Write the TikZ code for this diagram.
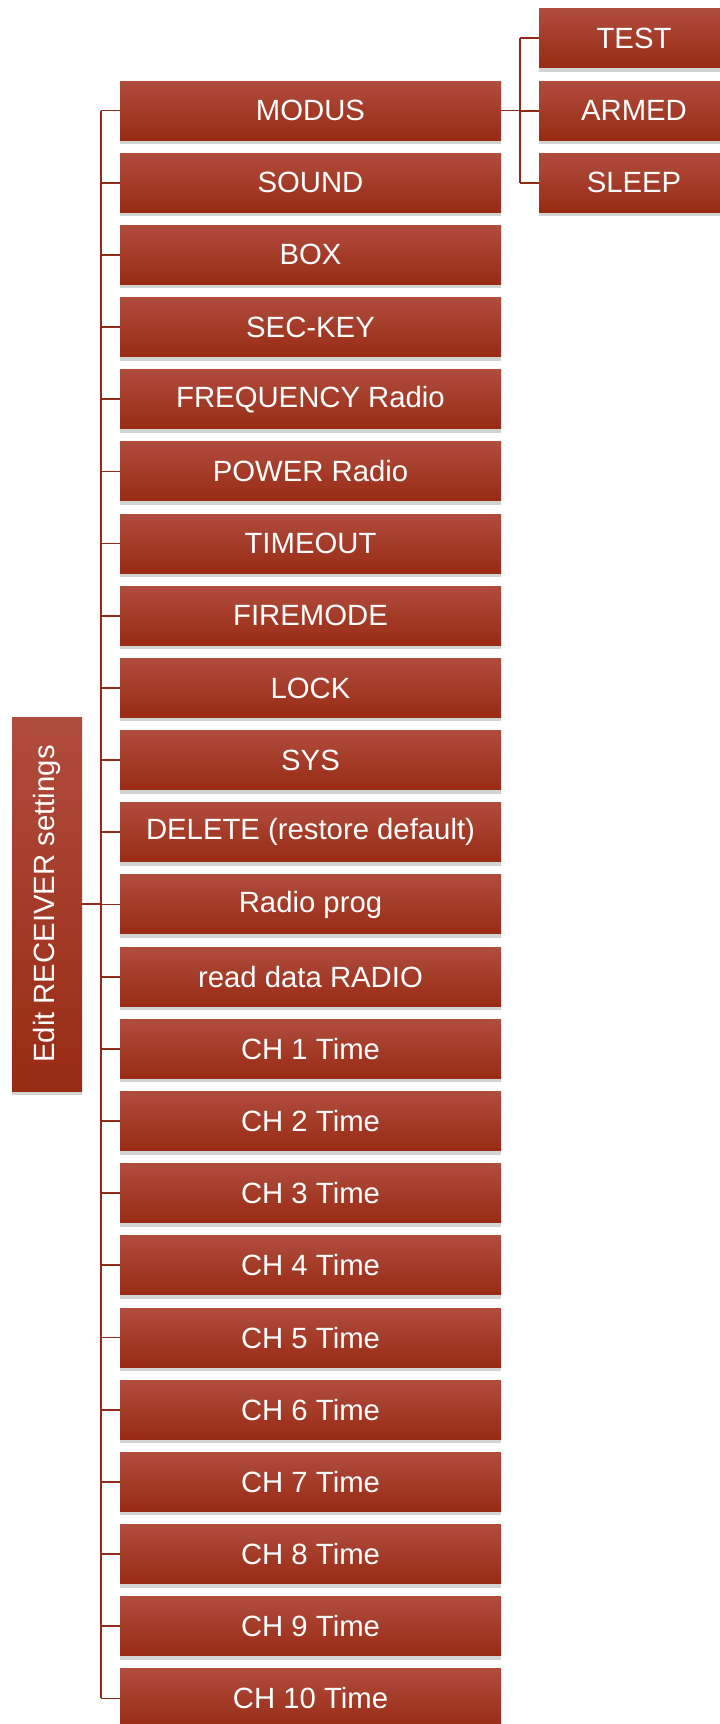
\documentclass[tikz,border=0pt]{standalone}
\usepackage{fontspec}
\setmainfont{Liberation Sans}
\usetikzlibrary{shadows}
\definecolor{boxtop}{HTML}{B04C3E}
\definecolor{boxbot}{HTML}{982B14}
\definecolor{linkred}{HTML}{8E2A17}
\begin{document}
\begin{tikzpicture}[x=1pt, y=-1pt,
    menubox/.style={rectangle, top color=boxtop, bottom color=boxbot, text=white,
        minimum width=381pt, minimum height=59pt, inner sep=0pt,
        font=\fontsize{29.3}{35}\selectfont,
        drop shadow={opacity=0.35, shadow xshift=0pt, shadow yshift=-4pt}},
    subbox/.style={menubox, minimum width=190pt},
    rootbox/.style={menubox, rotate=90, minimum width=374pt, minimum height=70pt},
    link/.style={draw=linkred, line width=1.8pt},
]
\useasboundingbox (0,0) rectangle (720,1724);
% Root
\node[rootbox] (root) at (47,904) {Edit RECEIVER settings};
% Menu entries
\foreach \txt [count=\i] in {MODUS, SOUND, BOX, SEC-KEY, FREQUENCY Radio, POWER Radio,
    TIMEOUT, FIREMODE, LOCK, SYS, {DELETE (restore default)}, Radio prog,
    read data RADIO, CH 1 Time, CH 2 Time, CH 3 Time, CH 4 Time, CH 5 Time,
    CH 6 Time, CH 7 Time, CH 8 Time, CH 9 Time, CH 10 Time} {
    \node[menubox] (m\i) at (310.5, 110.5+72.18*\i-72.18) {\txt};
}
% MODUS options
\foreach \txt [count=\i] in {TEST, ARMED, SLEEP} {
    \node[subbox] (s\i) at (634, 38.3+72.3*\i-72.3) {\txt};
}

% Connections
\coordinate (trunk) at (101,0);
\coordinate (subtrunk) at (520,0);
\draw[link] (root.south) -- (root.south -| trunk);
\draw[link] (trunk |- m1.west) -- (trunk |- m23.west);
\foreach \i in {1,...,23} {
    \draw[link] (trunk |- m\i.west) -- (m\i.west);
}
\draw[link] (m1.east) -- (m1.east -| subtrunk);
\draw[link] (subtrunk |- s1.west) -- (subtrunk |- s3.west);
\foreach \i in {1,2,3} {
    \draw[link] (subtrunk |- s\i.west) -- (s\i.west);
}
\end{tikzpicture}
\end{document}
